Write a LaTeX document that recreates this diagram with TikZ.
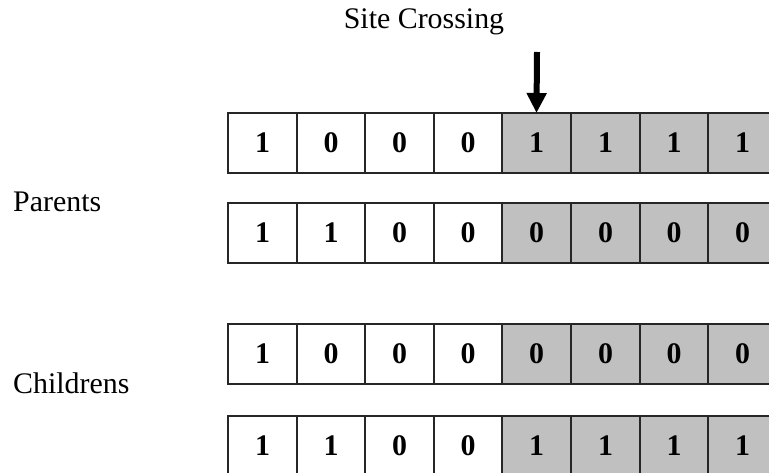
\documentclass[tikz,border=0pt]{standalone}
\usepackage{fontspec}
\setmainfont{Liberation Serif}
\usetikzlibrary{arrows.meta}
\definecolor{cellgray}{HTML}{C0C0C0}
\definecolor{edgecol}{HTML}{262626}
\begin{document}
\begin{tikzpicture}[x=1bp,y=-1bp,
  cell/.style={minimum height=60bp, outer sep=0pt,
    inner sep=0pt, anchor=north west, font=\fontsize{30}{36}\selectfont\bfseries},
  cellborder/.style={draw=edgecol, line width=2bp},
  lbl/.style={inner sep=0pt, font=\fontsize{30}{36}\selectfont},
  crossarrow/.style={line width=6bp, -{Triangle[width=19bp,length=20bp]}}]
\path[use as bounding box, clip] (0,0) rectangle (769,473);
\fill[white] (0,0) rectangle (769,473);
\foreach \r/\t/\v in {1/113/{1,0,0,0,1,1,1,1}, 2/203/{1,1,0,0,0,0,0,0},
                      3/324/{1,0,0,0,0,0,0,0}, 4/416/{1,1,0,0,1,1,1,1}}{
  \foreach \d [count=\c] in \v {
    \ifnum\c>4 \def\fc{cellgray}\else\def\fc{white}\fi
    \pgfmathsetmacro\xpos{{228,297,365,434,502,571,640,708}[\c-1]}
    \pgfmathsetmacro\cellw{{69,68,69,68,69,69,68,69}[\c-1]}
    \node[cell, fill=\fc, minimum width=\cellw bp] (r\r c\c) at (\xpos, \t) {\d};
  }
  \foreach \c in {1,...,8} {
    \draw[cellborder] (r\r c\c.north west) rectangle (r\r c\c.south east);
  }
}
\node[lbl, anchor=base] (site) at (424,29) {Site Crossing};
\node[lbl, anchor=base west] (parents) at (13,212) {Parents};
\node[lbl, anchor=base west] (children) at (13,393) {Childrens};
\coordinate (arrtop) at (537,52);
\draw[crossarrow] (arrtop) -- (r1c5.north);
\end{tikzpicture}
\end{document}
